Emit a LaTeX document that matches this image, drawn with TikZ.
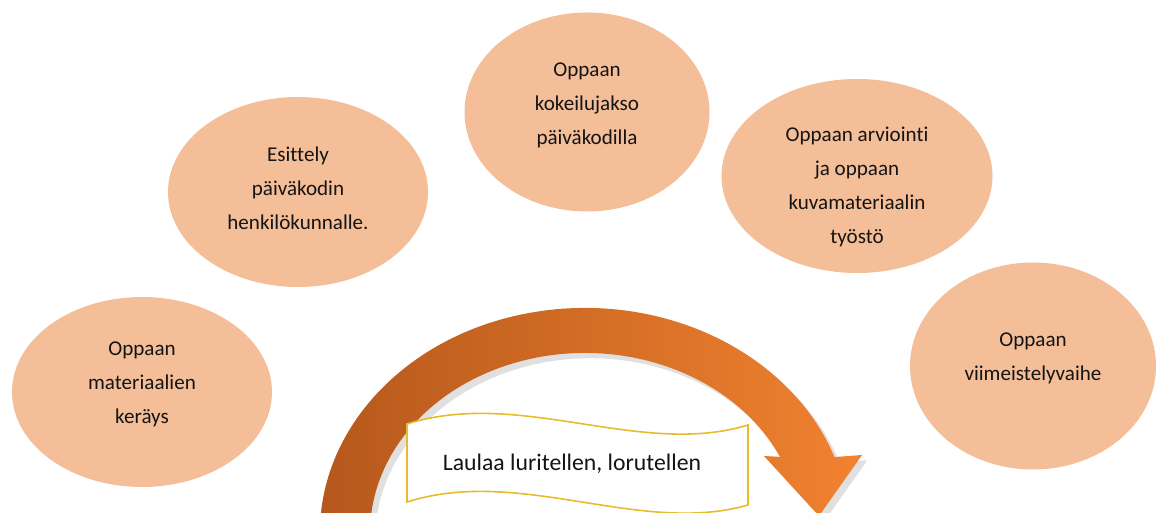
\documentclass[tikz,border=0pt]{standalone}
\usepackage{fontspec}
\setmainfont[Ligatures={NoCommon}]{Carlito}
\usetikzlibrary{shapes.geometric}

\definecolor{peach}{HTML}{F4BE98}
\definecolor{arrowdark}{HTML}{B3561B}
\definecolor{arrowlight}{HTML}{F18230}
\definecolor{bannerline}{HTML}{E6BC2C}
\definecolor{inktext}{HTML}{141414}

\tikzset{
  blob/.style={ellipse, fill=peach, inner sep=0pt},
  blobtext/.style={align=center, text=inktext, font=\fontsize{12}{19.4}\selectfont},
}

\begin{document}
\begin{tikzpicture}[x=0.02cm, y=0.02cm]

\useasboundingbox (0,0) rectangle (1156,513);
\clip (0,0) rectangle (1156,513);

% the big curved arrow (outer arc, head, inner arc back)
\def\arcarrow{(324,-59) arc[start angle=190, end angle=19.7, x radius=265, y radius=225]
  -- (862,58) -- (819,-3) -- (764,57) -- (779.9,56.1)
  arc[start angle=25, end angle=190, x radius=215, y radius=180] -- cycle}

\fill[black, opacity=0.12, xshift=3, yshift=-3] \arcarrow;
\shade[left color=arrowdark, right color=arrowlight] \arcarrow;

% banner
\draw[bannerline, line width=0.9pt, fill=white]
  (407,89) .. controls (520,125) and (640,55) .. (748,88)
  -- (748,8) .. controls (640,-23) and (520,47) .. (407,11) -- cycle;
\node[blobtext, font=\fontsize{13.5}{16}\selectfont] (banner) at (572,49) {Laulaa luritellen, lorutellen};

% phases: number / centre / size / text offset / text
\foreach \i/\x/\y/\w/\h/\dy/\txt in {
  1/142/121/260/190/8/{Oppaan\\materiaalien\\keräys},
  2/298/321/260/190/4/{Esittely\\päiväkodin\\henkilökunnalle.},
  3/587/401/245/199/7/{Oppaan\\kokeilujakso\\päiväkodilla},
  4/857/337/271/194/-11/{Oppaan arviointi\\ja oppaan\\kuvamateriaalin\\työstö},
  5/1033/147/246/207/8/{Oppaan\\viimeistelyvaihe}}
{
  \node[blob, minimum width=\w*0.02cm, minimum height=\h*0.02cm] (e\i) at (\x,\y) {};
  \node[blobtext] (t\i) at (\x,\y+\dy) {\txt};
}
\end{tikzpicture}
\end{document}
